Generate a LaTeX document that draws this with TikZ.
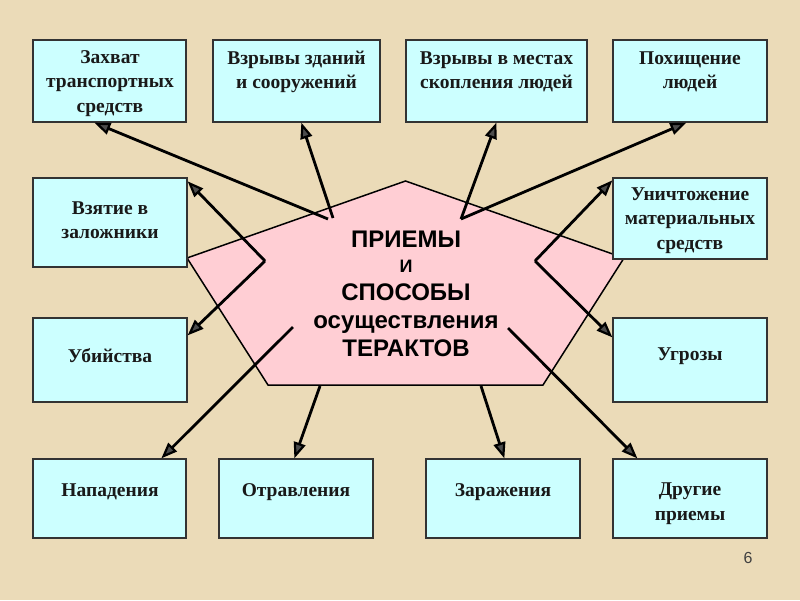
\documentclass[tikz,border=0pt]{standalone}
\usepackage{fontspec}
\setmainfont{Liberation Serif}
\newfontfamily\arialf{Liberation Sans}
\usetikzlibrary{arrows.meta,calc}
\definecolor{bgc}{RGB}{235,219,184}
\definecolor{boxfill}{RGB}{204,255,255}
\definecolor{pentfill}{RGB}{255,206,212}
\begin{document}
\begin{tikzpicture}[x=1pt,y=-1pt,
  bx/.style={draw=black!80, line width=1.3pt, fill=boxfill, inner sep=0pt},
  btxt/.style={font=\bfseries\fontsize{19.5}{24.5}\selectfont, align=center, inner sep=0pt, text=black!90},
  arr/.style={line width=2.8pt, draw=black, -{Triangle[length=16pt, width=12pt, line width=2.2pt, fill=black!70]}}]
\fill[bgc] (0,0) rectangle (800,600);
\useasboundingbox (0,0) rectangle (800,600);
% pentagon
\coordinate (pT) at (405.5,181);
\coordinate (pL) at (187,258);
\coordinate (pR) at (624,258);
\coordinate (pBL) at (268,385);
\coordinate (pBR) at (543,385);
\draw[fill=pentfill, line width=1.5pt, line join=miter] (pT) -- (pR) -- (pBR) -- (pBL) -- (pL) -- cycle;
\node[font=\arialf\bfseries\fontsize{24}{28}\selectfont, align=center, inner sep=0pt] (ctr) at (406,294)
  {ПРИЕМЫ\\[-3pt]{\fontsize{18}{28}\selectfont И}\\СПОСОБЫ\\осуществления\\ТЕРАКТОВ};
% start points
\coordinate (s1) at (328,219);
\coordinate (s2) at (333,218);
\coordinate (s3) at (461,219);
\coordinate (vL) at (265,261);
\coordinate (vR) at (535,261);
\coordinate (s9) at (293,327);
\coordinate (s10) at (320,386);
\coordinate (s11) at (481,386);
\coordinate (s12) at (508,328);
% boxes
\node[bx, minimum width=153, minimum height=82] (b1) at (109.5,81) {};
\node[bx, minimum width=167, minimum height=82] (b2) at (296.5,81) {};
\node[bx, minimum width=181, minimum height=82] (b3) at (496.5,81) {};
\node[bx, minimum width=154, minimum height=82] (b4) at (690,81) {};
\node[bx, minimum width=154, minimum height=89] (b5) at (110,222.5) {};
\node[bx, minimum width=154, minimum height=81] (b6) at (690,218.5) {};
\node[bx, minimum width=154, minimum height=84] (b7) at (110,360) {};
\node[bx, minimum width=154, minimum height=84] (b8) at (690,360) {};
\node[bx, minimum width=153, minimum height=79] (b9) at (109.5,498.5) {};
\node[bx, minimum width=154, minimum height=79] (b10) at (296,498.5) {};
\node[bx, minimum width=154, minimum height=79] (b11) at (503,498.5) {};
\node[bx, minimum width=154, minimum height=79] (b12) at (690,498.5) {};
% texts
\node[btxt] (t1) at (110,83.5) {Захват\\транспортных\\средств};
\node[btxt] (t2) at (296.5,72) {Взрывы зданий\\и сооружений};
\node[btxt] (t3) at (496.5,72) {Взрывы в местах\\скопления людей};
\node[btxt] (t4) at (690,72) {Похищение\\людей};
\node[btxt] (t5) at (110,220) {Взятие в\\заложники};
\node[btxt] (t6) at (690,220.5) {Уничтожение\\материальных\\средств};
\node[btxt] (t7) at (110,356) {Убийства};
\node[btxt] (t8) at (690,356) {Угрозы};
\node[btxt] (t9) at (110,492) {Нападения};
\node[btxt] (t10) at (296,492) {Отравления};
\node[btxt] (t11) at (503,492) {Заражения};
\node[btxt] (t12) at (690,503.5) {Другие\\приемы};
% arrows
\draw[arr] (s1) -- ([xshift=62pt]b1.south west);
\draw[arr] (s2) -- ([xshift=89pt]b2.south west);
\draw[arr] (s3) -- ([xshift=91pt]b3.south west);
\draw[arr] (s3) -- ([xshift=74pt]b4.south west);
\draw[arr] (vL) -- ([yshift=-4pt]b5.north east);
\draw[arr] (vL) -- ([yshift=-18pt]b7.north east);
\draw[arr] (vR) -- ([yshift=-3pt]b6.north west);
\draw[arr] (vR) -- ([yshift=-20pt]b8.north west);
\draw[arr] (s9) -- ([xshift=129pt]b9.north west);
\draw[arr] (s10) -- ([xshift=76pt]b10.north west);
\draw[arr] (s11) -- ([xshift=79pt]b11.north west);
\draw[arr] (s12) -- ([xshift=25pt]b12.north west);
\node[font=\arialf\fontsize{16}{16}\selectfont, text=black!75] (pg) at (748,558) {6};
\end{tikzpicture}
\end{document}
